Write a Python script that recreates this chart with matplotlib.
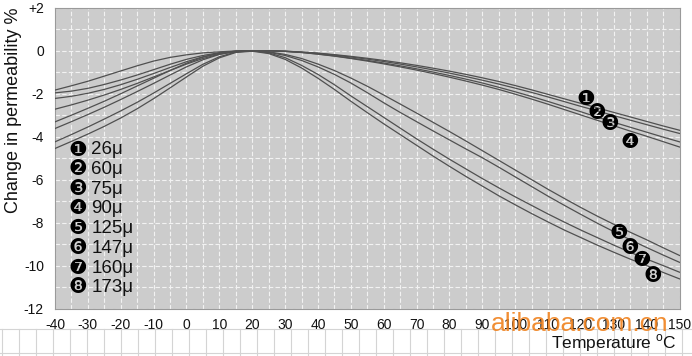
import numpy as np
import matplotlib
matplotlib.use("Agg")
import matplotlib.pyplot as plt
from matplotlib.lines import Line2D

plt.rcParams['font.family'] = ['Liberation Sans', 'DejaVu Sans']
plt.rcParams['mathtext.fontset'] = 'custom'
plt.rcParams['mathtext.rm'] = 'Liberation Sans'
plt.rcParams['axes.unicode_minus'] = False

# temperature grid (deg C), one reading every 5 degrees
temps = list(range(-40, 155, 5))

# change in permeability (%)
c26 = [-1.83, -1.63, -1.42, -1.18, -0.94, -0.70, -0.48, -0.31, -0.19, -0.10, -0.05, -0.01, 0.00,
       0.00, -0.02, -0.06, -0.11, -0.18, -0.26, -0.35, -0.45, -0.56, -0.68, -0.81, -0.95, -1.10,
       -1.26, -1.43, -1.62, -1.82, -2.03, -2.24, -2.45, -2.66, -2.87, -3.08, -3.29, -3.50, -3.70]
c60 = [-1.96, -1.88, -1.75, -1.57, -1.36, -1.13, -0.88, -0.63, -0.40, -0.22, -0.09, -0.02, 0.00,
       0.00, -0.02, -0.06, -0.12, -0.20, -0.29, -0.39, -0.50, -0.62, -0.75, -0.89, -1.04, -1.20,
       -1.37, -1.55, -1.74, -1.94, -2.15, -2.37, -2.59, -2.80, -3.02, -3.23, -3.44, -3.65, -3.85]
c75 = [-2.22, -2.12, -1.98, -1.80, -1.58, -1.33, -1.06, -0.78, -0.51, -0.28, -0.12, -0.03, 0.00,
       0.00, -0.03, -0.08, -0.15, -0.24, -0.34, -0.45, -0.57, -0.70, -0.84, -0.99, -1.15, -1.32,
       -1.50, -1.70, -1.91, -2.13, -2.36, -2.60, -2.84, -3.09, -3.33, -3.56, -3.79, -4.02, -4.24]
c90 = [-2.72, -2.52, -2.30, -2.06, -1.80, -1.52, -1.22, -0.92, -0.62, -0.36, -0.16, -0.04, 0.00,
       0.00, -0.03, -0.08, -0.16, -0.25, -0.36, -0.48, -0.61, -0.75, -0.90, -1.06, -1.23, -1.41,
       -1.60, -1.80, -2.02, -2.25, -2.49, -2.74, -2.99, -3.24, -3.49, -3.74, -3.98, -4.23, -4.48]
c125 = [-3.31, -3.00, -2.68, -2.35, -2.00, -1.64, -1.28, -0.92, -0.58, -0.30, -0.11, -0.02, 0.00,
        -0.05, -0.17, -0.36, -0.62, -0.92, -1.27, -1.65, -2.06, -2.48, -2.90, -3.33, -3.76, -4.20,
        -4.65, -5.10, -5.55, -6.00, -6.45, -6.88, -7.30, -7.70, -8.08, -8.45, -8.80, -9.17, -9.53]
c147 = [-3.62, -3.30, -2.97, -2.63, -2.27, -1.90, -1.52, -1.13, -0.75, -0.42, -0.17, -0.03, 0.00,
        -0.07, -0.22, -0.45, -0.75, -1.10, -1.50, -1.95, -2.42, -2.87, -3.30, -3.73, -4.15, -4.57,
        -4.98, -5.42, -5.87, -6.32, -6.77, -7.20, -7.62, -8.03, -8.42, -8.80, -9.16, -9.51, -9.85]
c160 = [-4.24, -3.90, -3.55, -3.18, -2.80, -2.40, -1.97, -1.52, -1.07, -0.63, -0.28, -0.06, 0.00,
        -0.10, -0.32, -0.68, -1.10, -1.58, -2.10, -2.60, -3.10, -3.60, -4.10, -4.58, -5.05, -5.50,
        -5.95, -6.38, -6.80, -7.20, -7.60, -7.98, -8.35, -8.70, -9.05, -9.38, -9.70, -10.00, -10.31]
c173 = [-4.55, -4.22, -3.88, -3.52, -3.13, -2.70, -2.23, -1.73, -1.22, -0.72, -0.33, -0.08, -0.02,
        -0.13, -0.40, -0.80, -1.28, -1.80, -2.35, -2.88, -3.40, -3.90, -4.40, -4.90, -5.38, -5.85,
        -6.30, -6.75, -7.17, -7.58, -7.97, -8.35, -8.70, -9.05, -9.38, -9.70, -10.00, -10.32, -10.62]

curves = [c26, c60, c75, c90, c125, c147, c160, c173]
legend_labels = ['26μ', '60μ', '75μ', '90μ', '125μ', '147μ', '160μ', '173μ']
markers = ['❶', '❷', '❸', '❹', '❺', '❻', '❼', '❽']

# where the numbered markers sit on the curves
mark_t = [121.5, 124.8, 128.9, 134.8, 131.6, 135.0, 138.5, 142.0]
mark_v = [-2.25, -2.92, -3.39, -4.24, -8.47, -9.17, -9.76, -10.49]

fig = plt.figure(figsize=(6.92, 3.56), dpi=100)
fig.patch.set_facecolor('white')

# faint spreadsheet cell lines under the chart
W, H = 692, 356
for yy in [329.3, 353.3]:
    fig.add_artist(Line2D([0, 1], [1 - yy / H, 1 - yy / H], color='#d4d4d4', lw=0.8))
for xx in np.arange(1.7, W, 17.0):
    fig.add_artist(Line2D([xx / W, xx / W], [1 - 329.3 / H, 0], color='#d4d4d4', lw=0.8))

ax = fig.add_axes([55 / W, 1 - 308.5 / H, (679.5 - 55) / W, (308.5 - 7.8) / H])
ax.set_facecolor('#cccccc')

for c in curves:
    ax.plot(temps, c, color='#505050', lw=0.9, zorder=3)

ax.set_xlim(-40, 150)
ax.set_ylim(-12, 2)
ax.set_xticks(range(-40, 151, 10))
ax.set_yticks(range(-12, 3, 2))
ax.set_yticklabels([str(v) if v <= 0 else '+' + str(v) for v in range(-12, 3, 2)])
ax.set_xticks(range(-40, 151, 5), minor=True)
ax.set_yticks(range(-12, 3, 1), minor=True)
ax.grid(which='both', color='#f2f2f2', ls=(0, (4, 2)), lw=0.8, zorder=1)
ax.set_axisbelow(True)
ax.tick_params(which='both', length=0, labelsize=10, colors='#111111')
ax.tick_params(axis='y', pad=8)
ax.tick_params(axis='x', pad=7)
for s in ax.spines.values():
    s.set_color('#9a9a9a')
    s.set_linewidth(0.8)

# legend block at left
leg_y = [150, 169.3, 189.3, 208.3, 228.3, 248.3, 268.3, 287.3]
for m, lab, yy in zip(markers, legend_labels, leg_y):
    fig.text(77.5 / W, 1 - yy / H, m, family='DejaVu Sans', fontsize=15,
             ha='center', va='center', color='black')
    fig.text(91.5 / W, 1 - yy / H, lab, fontsize=13.5, ha='left', va='center', color='#111111')

# numbered markers on the curves
for m, t, v in zip(markers, mark_t, mark_v):
    ax.text(t, v, m, family='DejaVu Sans', fontsize=15, ha='center', va='center',
            color='black', zorder=5)

fig.text(14 / W, 1 - 110 / H, 'Change in permeability %', rotation=90, fontsize=13,
         ha='center', va='center', color='#111111')
fig.text(677 / W, 1 - 343 / H, r'Temperature $^\mathregular{o}$C', fontsize=12.5,
         ha='right', va='center', color='#111111')

# watermark
fig.text(580 / W, 1 - 324 / H, 'alibaba.com.cn', fontsize=19, ha='center', va='center',
         color='#f0821e', alpha=0.9)

fig.savefig('out.png', dpi=100, facecolor='white')
